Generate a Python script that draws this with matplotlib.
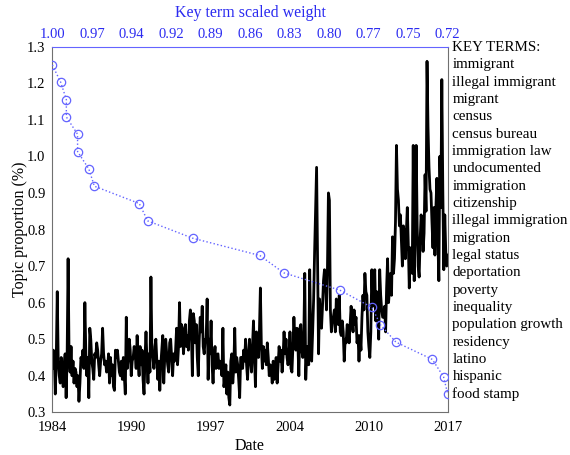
import numpy as np
import matplotlib
matplotlib.use("Agg")
import matplotlib.pyplot as plt
import matplotlib.transforms as mtransforms

plt.rcParams['font.family'] = ['Liberation Serif', 'DejaVu Serif']

# monthly topic proportion (%), Jan 1984 onwards
topic_share = [
    0.42, 0.47, 0.46, 0.35, 0.45, 0.63, 0.44, 0.40, 0.38, 0.45, 0.42, 0.37,  # 1984
    0.43, 0.46, 0.34, 0.45, 0.72, 0.45, 0.41, 0.48, 0.40, 0.44, 0.38, 0.42,  # 1985
    0.41, 0.37, 0.40, 0.33, 0.38, 0.45, 0.44, 0.47, 0.42, 0.60, 0.46, 0.40,  # 1986
    0.45, 0.34, 0.53, 0.50, 0.44, 0.42, 0.39, 0.46, 0.45, 0.49, 0.47, 0.43,  # 1987
    0.40, 0.44, 0.46, 0.53, 0.46, 0.43, 0.44, 0.41, 0.42, 0.46, 0.38, 0.45,  # 1988
    0.40, 0.43, 0.37, 0.36, 0.47, 0.45, 0.47, 0.44, 0.41, 0.40, 0.44, 0.39,  # 1989
    0.45, 0.40, 0.35, 0.56, 0.42, 0.45, 0.50, 0.47, 0.40, 0.44, 0.45, 0.48,  # 1990
    0.46, 0.42, 0.51, 0.44, 0.40, 0.48, 0.43, 0.47, 0.39, 0.35, 0.45, 0.52,  # 1991
    0.44, 0.38, 0.46, 0.41, 0.67, 0.47, 0.45, 0.42, 0.48, 0.50, 0.44, 0.39,  # 1992
    0.44, 0.36, 0.43, 0.47, 0.51, 0.38, 0.45, 0.50, 0.46, 0.43, 0.41, 0.49,  # 1993
    0.50, 0.45, 0.40, 0.46, 0.44, 0.47, 0.53, 0.43, 0.48, 0.60, 0.48, 0.54,  # 1994
    0.53, 0.46, 0.50, 0.54, 0.48, 0.51, 0.47, 0.55, 0.58, 0.52, 0.40, 0.57,  # 1995
    0.55, 0.49, 0.54, 0.45, 0.40, 0.50, 0.56, 0.52, 0.59, 0.48, 0.46, 0.50,  # 1996
    0.50, 0.61, 0.39, 0.50, 0.46, 0.55, 0.43, 0.38, 0.45, 0.48, 0.42, 0.44,  # 1997
    0.46, 0.42, 0.44, 0.43, 0.40, 0.53, 0.37, 0.39, 0.43, 0.35, 0.41, 0.34,  # 1998
    0.32, 0.44, 0.46, 0.38, 0.42, 0.53, 0.41, 0.45, 0.43, 0.39, 0.34, 0.45,  # 1999
    0.45, 0.42, 0.47, 0.44, 0.50, 0.43, 0.39, 0.46, 0.50, 0.44, 0.41, 0.48,  # 2000
    0.55, 0.45, 0.37, 0.52, 0.47, 0.45, 0.52, 0.64, 0.48, 0.42, 0.48, 0.44,  # 2001
    0.47, 0.43, 0.49, 0.45, 0.40, 0.43, 0.42, 0.38, 0.44, 0.39, 0.41, 0.45,  # 2002
    0.38, 0.43, 0.48, 0.44, 0.47, 0.41, 0.45, 0.52, 0.46, 0.50, 0.45, 0.43,  # 2003
    0.45, 0.52, 0.42, 0.41, 0.48, 0.56, 0.50, 0.47, 0.53, 0.49, 0.40, 0.53,  # 2004
    0.54, 0.47, 0.45, 0.50, 0.68, 0.39, 0.46, 0.48, 0.43, 0.69, 0.52, 0.44,  # 2005
    0.52, 0.61, 0.74, 0.85, 0.97, 0.70, 0.46, 0.61, 0.56, 0.53, 0.59, 0.66,  # 2006
    0.69, 0.66, 0.58, 0.69, 0.90, 0.88, 0.58, 0.52, 0.55, 0.56, 0.58, 0.52,  # 2007
    0.61, 0.55, 0.54, 0.62, 0.52, 0.51, 0.55, 0.52, 0.44, 0.50, 0.49, 0.54,  # 2008
    0.53, 0.49, 0.54, 0.59, 0.55, 0.52, 0.58, 0.54, 0.56, 0.49, 0.51, 0.44,  # 2009
    0.51, 0.47, 0.56, 0.62, 0.58, 0.68, 0.63, 0.62, 0.52, 0.48, 0.45, 0.52,  # 2010
    0.69, 0.59, 0.64, 0.69, 0.55, 0.63, 0.57, 0.50, 0.69, 0.62, 0.58, 0.56,  # 2011
    0.56, 0.59, 0.52, 0.64, 0.72, 0.60, 0.64, 0.68, 0.62, 0.78, 0.68, 0.72,  # 2012
    0.82, 1.03, 0.91, 0.88, 0.81, 0.84, 0.77, 0.70, 0.81, 0.79, 0.72, 0.79,  # 2013
    0.86, 0.76, 0.64, 0.75, 0.73, 0.68, 1.03, 0.66, 0.81, 1.03, 0.81, 0.70,  # 2014
    0.67, 0.77, 0.84, 0.81, 0.74, 0.79, 0.95, 0.85, 1.26, 1.08, 0.97, 0.91,  # 2015
    0.90, 0.82, 0.75, 0.86, 0.73, 0.86, 0.94, 0.77, 0.66, 1.00, 0.86, 1.21,  # 2016
    0.91, 0.69, 0.84, 0.74, 0.70, 0.73,                                      # 2017
]
start_year = 1984
date_labels = ["1984", "1990", "1997", "2004", "2010", "2017"]

key_terms = ["immigrant", "illegal immigrant", "migrant", "census", "census bureau",
             "immigration law", "undocumented", "immigration", "citizenship",
             "illegal immigration", "migration", "legal status", "deportation",
             "poverty", "inequality", "population growth", "residency", "latino",
             "hispanic", "food stamp"]
term_weights = [1.000, 0.994, 0.990, 0.990, 0.982, 0.982, 0.974, 0.970, 0.938, 0.932,
                0.900, 0.852, 0.835, 0.795, 0.772, 0.766, 0.755, 0.729, 0.721, 0.718]

blue = "#2b2bf0"
marker_blue = "#6464ff"
spine_gray = "#707070"

t = start_year + np.arange(len(topic_share)) / 12.0

fig = plt.figure(figsize=(5.7, 4.55), dpi=100)
ax = fig.add_axes([0.0918, 0.0938, 0.6937, 0.8036])

ax.plot(t, topic_share, color="black", lw=2.0, zorder=2)
ax.set_xlim(t[0], t[-1])
ax.set_ylim(0.3, 1.3)
ax.set_xticks(np.linspace(t[0], t[-1], len(date_labels)))
ax.set_xticklabels(date_labels)
ax.set_yticks(np.arange(0.3, 1.31, 0.1))
ax.set_yticklabels(["%.1f" % v for v in np.arange(0.3, 1.31, 0.1)])
ax.tick_params(axis="both", length=0, labelsize=10.5)
ax.tick_params(axis="x", pad=6)
ax.tick_params(axis="y", pad=5)
ax.set_xlabel("Date", fontsize=11.5, labelpad=3)
ax.set_ylabel("Topic proportion (%)", fontsize=11.5, labelpad=-1)
for side in ["left", "bottom", "right"]:
    ax.spines[side].set_color(spine_gray)
ax.spines["top"].set_visible(False)

# key term weights on a second x axis along the top
rows = np.linspace(1.25, 0.35, len(key_terms))
ax2 = ax.twiny()
ax2.plot(term_weights, rows, ls=":", lw=1.0, color=marker_blue, marker="o",
         ms=6, mfc="none", mec=marker_blue, mew=0.9)
ax2.set_xlim(term_weights[0], term_weights[-1])
top_ticks = np.linspace(term_weights[0], term_weights[-1], 11)
ax2.set_xticks(top_ticks)
ax2.set_xticklabels(["%.2f" % w for w in top_ticks])
ax2.tick_params(axis="x", length=0, labelsize=10.5, colors=blue, pad=4)
ax2.set_xlabel("Key term scaled weight", color=blue, fontsize=11.5, labelpad=8)
for side in ["left", "bottom", "right"]:
    ax2.spines[side].set_visible(False)
ax2.spines["top"].set_color(marker_blue)

# term names listed beside the plot, one per row
trans = mtransforms.blended_transform_factory(ax.transAxes, ax.transData)
step = rows[0] - rows[1]
ax.text(1.012, rows[0] + step, "KEY TERMS:", transform=trans, ha="left",
        va="center", fontsize=10.8)
for name, y in zip(key_terms, rows):
    ax.text(1.012, y, name, transform=trans, ha="left", va="center", fontsize=10.8)

fig.savefig("out.png", dpi=100)
